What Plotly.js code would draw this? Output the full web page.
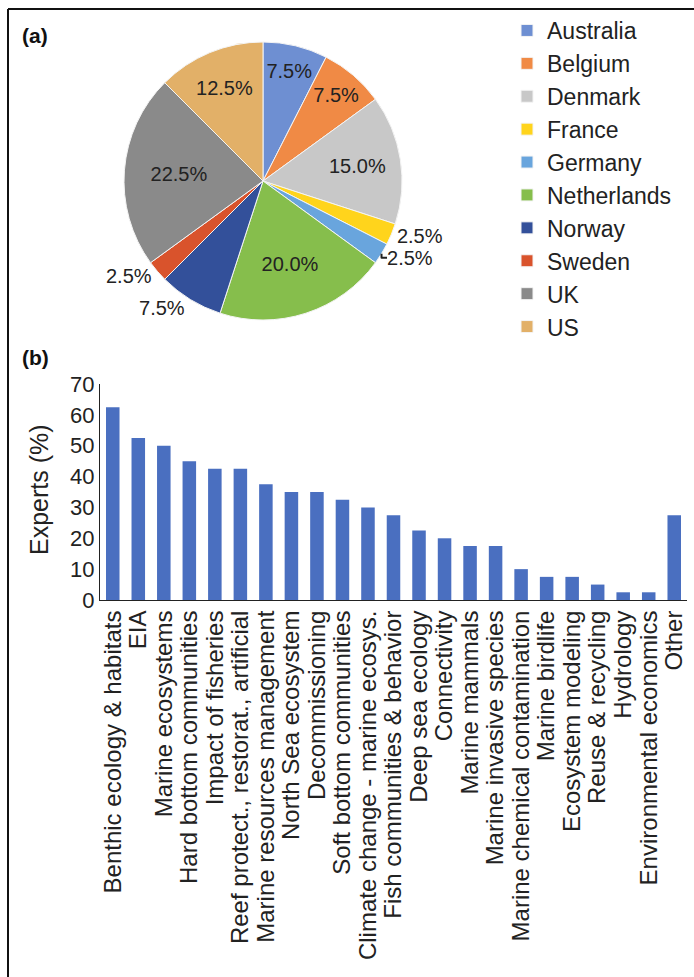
<!DOCTYPE html>
<html>
<head>
<meta charset="utf-8">
<script src="https://cdn.plot.ly/plotly-3.0.1.min.js"></script>
<style>html,body{margin:0;padding:0;background:#fff;}#chart{width:694px;height:977px;}</style>
</head>
<body>
<div id="chart"></div>
<script>
// ---- Data ----
const countries = ["Australia","Belgium","Denmark","France","Germany","Netherlands","Norway","Sweden","UK","US"];
const countryShares = [7.5, 7.5, 15.0, 2.5, 2.5, 20.0, 7.5, 2.5, 22.5, 12.5];
const countryColors = ["#6E8FD2","#F08A45","#C8C8C8","#FFD41C","#69A5DD","#86BE4C","#33509A","#D9532C","#8A8A8A","#E2B068"];
const labelPositions = ["inside","inside","inside","outside","outside","inside","outside","outside","inside","inside"];

const topics = ["Benthic ecology & habitats","EIA","Marine ecosystems","Hard bottom communities","Impact of fisheries",
  "Reef protect., restorat., artificial","Marine resources management","North Sea ecosystem","Decommissioning",
  "Soft bottom communities","Climate change - marine ecosys.","Fish communities & behavior","Deep sea ecology",
  "Connectivity","Marine mammals","Marine invasive species","Marine chemical contamination","Marine birdlife",
  "Ecosystem modeling","Reuse & recycling","Hydrology","Environmental economics","Other"];
const expertsPct = [62.5, 52.5, 50, 45, 42.5, 42.5, 37.5, 35, 35, 32.5, 30, 27.5, 22.5, 20, 17.5, 17.5, 10, 7.5, 7.5, 5, 2.5, 2.5, 27.5];
const yTicks = [0,10,20,30,40,50,60,70];
const yTitle = "Experts (%)";

// ---- Layout helpers (pixel -> paper) ----
const W = 694, H = 977;
const px = v => v / W;
const py = v => 1 - v / H;
const FONT = "Liberation Sans, Arial, sans-serif";

const pie = {
  type: "pie",
  labels: countries,
  values: countryShares,
  sort: false,
  direction: "clockwise",
  rotation: 0,
  marker: {colors: countryColors, line: {color: "#f4f4f4", width: 1}},
  texttemplate: "%{value:.1f}%",
  textposition: labelPositions,
  insidetextorientation: "horizontal",
  textfont: {family: FONT, size: 20, color: "#222"},
  hoverinfo: "label+percent",
  domain: {x: [px(124), px(402)], y: [py(320), py(42)]},
  showlegend: true
};

const bars = {
  type: "bar",
  x: topics,
  y: expertsPct,
  marker: {color: "#4A6FC0"},
  xaxis: "x",
  yaxis: "y",
  showlegend: false
};

const layout = {
  width: W, height: H,
  margin: {l: 0, r: 0, t: 0, b: 0},
  paper_bgcolor: "#fff",
  plot_bgcolor: "#fff",
  font: {family: FONT, color: "#222"},
  bargap: 0.47,
  legend: {
    x: px(507), y: py(9), xanchor: "left", yanchor: "top",
    font: {family: FONT, size: 23, color: "#222"},
    bgcolor: "rgba(0,0,0,0)",
    itemwidth: 30
  },
  xaxis: {
    domain: [px(100), px(687)],
    showline: true, linecolor: "#222", linewidth: 1,
    tickmode: "array", tickvals: topics, ticktext: topics,
    ticks: "", tickangle: -90,
    tickfont: {family: FONT, size: 24, color: "#222"},
    showgrid: false, zeroline: false,
    fixedrange: true
  },
  yaxis: {
    domain: [py(600), py(384)],
    range: [0, 70],
    tickvals: yTicks,
    ticks: "",
    showline: true, linecolor: "#222", linewidth: 1,
    showgrid: false, zeroline: false,
    tickfont: {family: FONT, size: 22, color: "#222"},
    fixedrange: true
  },
  annotations: [
    {text: "<b>(a)</b>", xref: "paper", yref: "paper", x: px(20), y: py(36), xanchor: "left", yanchor: "middle", showarrow: false, font: {family: FONT, size: 21, color: "#111"}},
    {text: "<b>(b)</b>", xref: "paper", yref: "paper", x: px(20), y: py(357), xanchor: "left", yanchor: "middle", showarrow: false, font: {family: FONT, size: 21, color: "#111"}},
    {text: yTitle, xref: "paper", yref: "paper", x: px(39), y: py(490), xanchor: "center", yanchor: "middle", textangle: -90, showarrow: false, font: {family: FONT, size: 25, color: "#222"}}
  ],
  shapes: [
    {type: "line", xref: "paper", yref: "paper", x0: px(8), x1: px(8), y0: py(9), y1: py(980), line: {color: "#111", width: 2}},
    {type: "line", xref: "paper", yref: "paper", x0: px(8), x1: px(700), y0: py(9), y1: py(9), line: {color: "#111", width: 2}}
  ]
};

Plotly.newPlot("chart", [pie, bars], layout, {displayModeBar: false, staticPlot: true});
</script>
</body>
</html>
